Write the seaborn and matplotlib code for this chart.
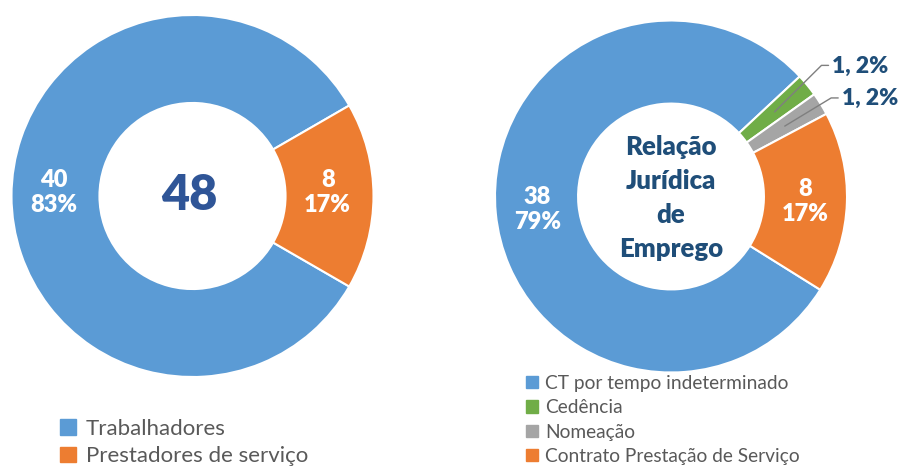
import matplotlib
matplotlib.use("Agg")
import matplotlib.pyplot as plt
from matplotlib.patches import Patch
import seaborn as sns
import numpy as np

# ---- data ----
left_labels = ["Trabalhadores", "Prestadores de serviço"]
left_values = [40, 8]
left_total_text = "48"

right_labels = ["CT por tempo indeterminado", "Cedência", "Nomeação", "Contrato Prestação de Serviço"]
right_values = [38, 1, 1, 8]
right_center_text = "Relação\nJurídica\nde\nEmprego"

sns.set_theme(style="white")
plt.rcParams["font.family"] = ["Lato", "DejaVu Sans"]

palette = {
    "blue": "#5B9BD5",
    "orange": "#ED7D31",
    "green": "#70AD47",
    "gray": "#A5A5A5",
}
left_colors = [palette["blue"], palette["orange"]]
right_colors = [palette["blue"], palette["green"], palette["gray"], palette["orange"]]

W, H = 900, 466
fig = plt.figure(figsize=(W / 100, H / 100), dpi=100)


def px_axes(cx, cy, r):
    return fig.add_axes([(cx - r) / W, (H - cy - r) / H, 2 * r / W, 2 * r / H])


def donut(ax, values, colors, start, inner):
    wedges, _ = ax.pie(values, colors=colors, startangle=start, counterclock=False,
                       radius=1, wedgeprops=dict(width=1 - inner, edgecolor="white", linewidth=1.5))
    ax.set_xlim(-1, 1)
    ax.set_ylim(-1, 1)
    ax.set_aspect("equal")
    ax.axis("off")
    return wedges


def mid(w, r):
    a = np.deg2rad((w.theta1 + w.theta2) / 2)
    return r * np.cos(a), r * np.sin(a)


# ---- left donut ----
axL = px_axes(192.5, 196, 181)
innerL = 0.514
wL = donut(axL, left_values, left_colors, -30, innerL)
totL = sum(left_values)
for w, v in zip(wL, left_values):
    x, y = mid(w, (1 + innerL) / 2)
    axL.text(x - 0.01, y + 0.02, f"{v}\n{round(100 * v / totL)}%", ha="center", va="center",
             color="white", fontsize=17, fontweight="heavy", linespacing=1.15)
axL.text(-0.02, 0, left_total_text, ha="center", va="center", color="#2F5597",
         fontsize=35, fontweight="heavy")

# ---- right donut ----
axR = px_axes(671, 196.5, 176)
innerR = 0.528
wR = donut(axR, right_values, right_colors, -32, innerR)
totR = sum(right_values)
text_off = {1: (0.915, 0.74), 2: (0.97, 0.555)}
for i, (w, v) in enumerate(zip(wR, right_values)):
    pct = round(100 * v / totR)
    if v >= 5:
        x, y = mid(w, (1 + innerR) / 2)
        axR.text(x, y, f"{v}\n{pct}%", ha="center", va="center",
                 color="white", fontsize=17, fontweight="heavy", linespacing=1.15)
    else:
        x, y = mid(w, 0.76)
        tx, ty = text_off[i]
        axR.plot([x, tx - 0.06, tx - 0.02], [y, ty + 0.005, ty + 0.005], color="#7F7F7F",
                 lw=1.0, clip_on=False)
        axR.text(tx, ty, f"{v}, {pct}%", ha="left", va="center", color="#1F4E79",
                 fontsize=16.5, fontweight="heavy")
axR.text(0, -0.01, right_center_text, ha="center", va="center", color="#1F4E79",
         fontsize=18.5, fontweight="heavy", linespacing=1.5)

# ---- legends ----
legL = fig.legend(handles=[Patch(color=c) for c in left_colors], labels=left_labels,
                  loc="upper left", bbox_to_anchor=(60 / W, 1 - 419 / H), frameon=False,
                  fontsize=16, labelcolor="#595959", handlelength=0.7, handleheight=0.7,
                  handletextpad=0.45, labelspacing=0.33, borderpad=0, borderaxespad=0)
legR = fig.legend(handles=[Patch(color=c) for c in right_colors], labels=right_labels,
                  loc="upper left", bbox_to_anchor=(526 / W, 1 - 375 / H), frameon=False,
                  fontsize=13.8, labelcolor="#595959", handlelength=0.6, handleheight=0.6,
                  handletextpad=0.4, labelspacing=0.38, borderpad=0, borderaxespad=0)

fig.savefig("out.png", dpi=100)
